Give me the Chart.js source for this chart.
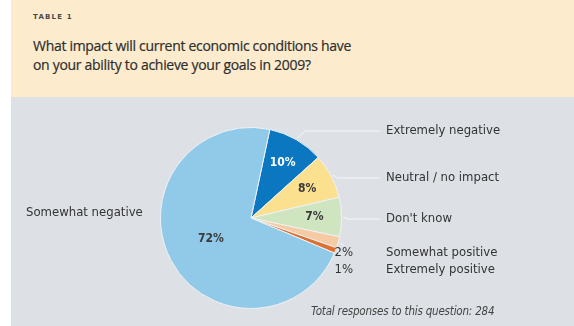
<!DOCTYPE html>
<html>
<head>
<meta charset="utf-8">
<script src="https://cdn.jsdelivr.net/npm/chart.js@4.4.1/dist/chart.umd.min.js"></script>
<style>
  body { margin: 0; background: #fff; width: 574px; height: 326px; overflow: hidden; position: relative; }
  #head { position: absolute; left: 11px; top: 0; width: 563px; height: 97px; background: #fdebcd; }
  #tag { position: absolute; left: 22px; top: 13px; font: bold 7px "DejaVu Sans"; letter-spacing: 1.2px; color: #4a4a4a; }
  #question { position: absolute; left: 22px; top: 36px; font: 14px "Open Sans"; line-height: 19px; color: #2e2e2e; letter-spacing: -0.3px; -webkit-text-stroke: 0.2px #2e2e2e; }
  #panel { position: absolute; left: 11px; top: 97px; width: 563px; height: 229px; background: #dde1e6; }
  #note { position: absolute; left: 300px; top: 207px; font: italic 11.5px "DejaVu Sans Condensed"; letter-spacing: -0.2px; color: #444; }
</style>
</head>
<body>
<div id="head">
  <div id="tag">TABLE 1</div>
  <div id="question">What impact will current economic conditions have<br>on your ability to achieve your goals in 2009?</div>
</div>
<div id="panel">
  <canvas id="pie" width="563" height="229"></canvas>
  <div id="note">Total responses to this question: 284</div>
</div>
<script>
// survey answers, clockwise from just right of 12 o'clock
const categories = ["Extremely negative", "Neutral / no impact", "Don't know", "Somewhat positive", "Extremely positive", "Somewhat negative"];
const shares = [10, 8, 7, 2, 1, 72];
const sliceColors = ["#0a77c0", "#fbe08f", "#cfe5c0", "#f6caa2", "#de7130", "#90cae8"];

// where the right-hand captions sit (canvas y)
const labelY = [34, 81, 122, 156, 173];

const labelPlugin = {
  id: "labels",
  afterDatasetsDraw(chart) {
    const ctx = chart.ctx;
    const arcs = chart.getDatasetMeta(0).data;
    ctx.save();
    ctx.strokeStyle = "#f5f7f9";
    ctx.lineWidth = 1;
    ctx.textBaseline = "middle";

    arcs.forEach((arc, i) => {
      const mid = (arc.startAngle + arc.endAngle) / 2;
      const r = arc.outerRadius;
      const cx = arc.x, cy = arc.y;

      // percent inside the slice
      if (shares[i] >= 7) {
        const k = i === 5 ? 0.5 : 0.7;
        ctx.font = "bold 12px 'DejaVu Sans Condensed'";
        ctx.textAlign = "center";
        ctx.fillStyle = i === 0 ? "#ffffff" : "#3a3a3a";
        ctx.fillText(shares[i] + "%", cx + Math.cos(mid) * r * k, cy + Math.sin(mid) * r * k);
      }

      ctx.fillStyle = "#333";
      ctx.font = "13px 'DejaVu Sans Condensed'";
      if (i < 5) {
        const sx = cx + Math.cos(mid) * (r + 2);
        const sy = cy + Math.sin(mid) * (r + 2);
        const y = labelY[i];
        ctx.beginPath();
        if (i < 3) {
          const ex = sx + Math.abs(y - sy) * 0.9 + 2;
          ctx.moveTo(sx, sy);
          ctx.lineTo(ex, y);
          ctx.lineTo(369, y);
        } else {
          ctx.moveTo(sx, sy);
          ctx.lineTo(sx + 4, sy + 3);
        }
        ctx.stroke();

        ctx.textAlign = "left";
        ctx.fillText(categories[i], 375, y);
        if (i >= 3) {
          ctx.textAlign = "right";
          ctx.fillText(shares[i] + "%", 342, y);
        }
      } else {
        ctx.textAlign = "left";
        ctx.fillText(categories[i], 15, 116);
      }
    });
    ctx.restore();
  }
};

new Chart(document.getElementById("pie"), {
  type: "pie",
  data: {
    labels: categories,
    datasets: [{
      data: shares,
      backgroundColor: sliceColors,
      borderColor: "#eef1f4",
      borderWidth: 1
    }]
  },
  options: {
    responsive: false,
    animation: false,
    rotation: 12,
    layout: { padding: { left: 149, right: 232, top: 30, bottom: 17 } },
    plugins: { legend: { display: false }, tooltip: { enabled: false } }
  },
  plugins: [labelPlugin]
});
</script>
</body>
</html>
